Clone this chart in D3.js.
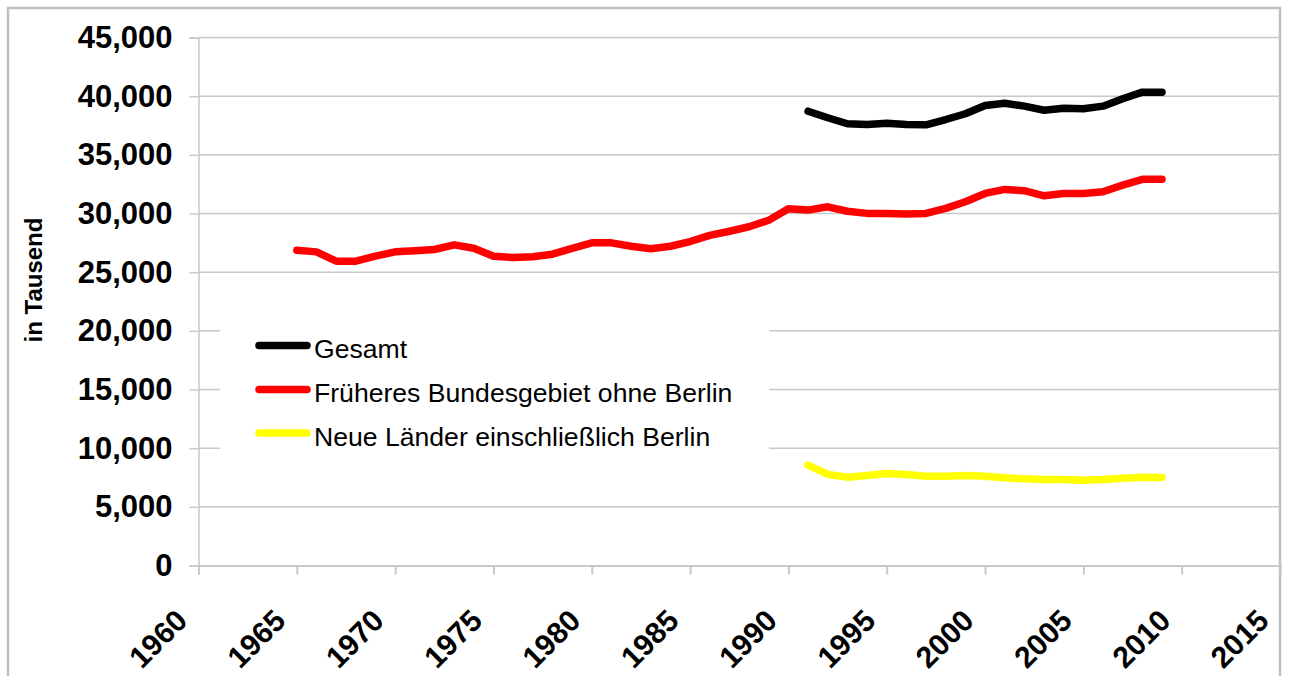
<!DOCTYPE html>
<html>
<head>
<meta charset="utf-8">
<script src="https://cdn.jsdelivr.net/npm/d3@7/dist/d3.min.js"></script>
<style>
  body { margin: 0; background: #fff; }
  svg { display: block; font-family: "Liberation Sans", Arial, sans-serif; }
</style>
</head>
<body>
<svg id="chart" width="1289" height="676"></svg>
<script>
// values (in Tausend)
const yearsWest = d3.range(1965, 2010);
const valuesWest = [
  26870, 26730, 25940, 25940, 26360, 26730, 26820, 26930, 27330, 27040,
  26360, 26250, 26310, 26530, 27020, 27500, 27500, 27210, 26990, 27210,
  27610, 28130, 28490, 28870, 29430, 30400, 30290, 30570, 30190, 30010,
  30010, 29950, 30010, 30440, 31000, 31710, 32050, 31940, 31510, 31710,
  31710, 31850, 32420, 32910, 32910
];
const yearsUnified = d3.range(1991, 2010);
const valuesTotal = [
  38720, 38160, 37650, 37590, 37700, 37590, 37560, 38010, 38500, 39200,
  39400, 39150, 38800, 38970, 38920, 39150, 39780, 40340, 40340
];
const valuesEast = [
  8550, 7760, 7530, 7670, 7840, 7760, 7610, 7610, 7670, 7610,
  7470, 7390, 7330, 7330, 7270, 7330, 7440, 7530, 7500
];
const yTicks = d3.range(0, 45001, 5000);
const xTicks = d3.range(1960, 2016, 5);

const series = [
  { name: "Gesamt", color: "#000000", years: yearsUnified, values: valuesTotal },
  { name: "Früheres Bundesgebiet ohne Berlin", color: "#ff0000", years: yearsWest, values: valuesWest },
  { name: "Neue Länder einschließlich Berlin", color: "#ffff00", years: yearsUnified, values: valuesEast }
];

const svg = d3.select("#chart");
const gridColor = "#c8c8c8";

const x = d3.scaleLinear().domain([1960, 2015]).range([198.5, 1280]);
const y = d3.scaleLinear().domain([0, 45000]).range([565.5, 37.5]);

// outer frame
svg.append("rect")
  .attr("x", 8).attr("y", 8)
  .attr("width", 1272).attr("height", 700)
  .attr("fill", "none")
  .attr("stroke", "#c0c0c0")
  .attr("stroke-width", 2.5);

// y axis with ticks
const yAxis = d3.axisLeft(y)
  .tickValues(yTicks)
  .tickSize(9)
  .tickPadding(17)
  .tickFormat(d3.format(","));
const gy = svg.append("g").attr("transform", `translate(${x(1960)},0)`).call(yAxis);
gy.select(".domain").attr("stroke", gridColor).attr("stroke-width", 1.5);
gy.selectAll(".tick line").attr("stroke", gridColor).attr("stroke-width", 1.5);
gy.selectAll(".tick text")
  .attr("font-size", 31)
  .attr("font-weight", "bold")
  .attr("fill", "#000")
  .attr("font-family", "'Liberation Sans', Arial, sans-serif");

// horizontal gridlines
svg.append("g").selectAll("line")
  .data(yTicks.filter(d => d > 0))
  .join("line")
  .attr("x1", x(1960)).attr("x2", x(2015))
  .attr("y1", d => y(d)).attr("y2", d => y(d))
  .attr("stroke", gridColor).attr("stroke-width", 1.5);

// x axis
const xAxis = d3.axisBottom(x)
  .tickValues(xTicks)
  .tickSize(9)
  .tickFormat(d3.format("d"));
const gx = svg.append("g").attr("transform", `translate(0,${y(0)})`).call(xAxis);
gx.select(".domain").attr("stroke", gridColor).attr("stroke-width", 2);
gx.selectAll(".tick line").attr("stroke", gridColor).attr("stroke-width", 2);
gx.selectAll(".tick text")
  .attr("font-size", 30)
  .attr("font-weight", "bold")
  .attr("fill", "#000")
  .attr("font-family", "'Liberation Sans', Arial, sans-serif")
  .attr("text-anchor", "end")
  .attr("y", 0).attr("dy", 0)
  .attr("transform", "translate(-10,57) rotate(-45)");

// y title
svg.append("text")
  .attr("transform", "translate(42,280) rotate(-90)")
  .attr("text-anchor", "middle")
  .attr("font-size", 24)
  .attr("font-weight", "bold")
  .text("in Tausend");

// legend background (hides gridlines behind it)
const legend = svg.append("g");
legend.append("rect")
  .attr("x", 220).attr("y", 305)
  .attr("width", 549).attr("height", 165)
  .attr("fill", "#fff");

// series lines
const line = d3.line()
  .x(d => x(d[0]))
  .y(d => y(d[1]));

svg.append("g").selectAll("path")
  .data(series)
  .join("path")
  .attr("d", s => line(s.years.map((yr, i) => [yr, s.values[i]])))
  .attr("fill", "none")
  .attr("stroke", s => s.color)
  .attr("stroke-width", 7.5)
  .attr("stroke-linejoin", "round")
  .attr("stroke-linecap", "round");

// legend entries
const rowY = [345.5, 389.5, 433];
const item = legend.selectAll("g.item")
  .data(series)
  .join("g")
  .attr("class", "item")
  .attr("transform", (d, i) => `translate(0,${rowY[i]})`);
item.append("line")
  .attr("x1", 259).attr("x2", 307)
  .attr("stroke", d => d.color)
  .attr("stroke-width", 7.5)
  .attr("stroke-linecap", "round");
item.append("text")
  .attr("x", 314).attr("y", 12.5)
  .attr("font-size", 26.6)
  .attr("fill", "#000")
  .text(d => d.name);
</script>
</body>
</html>
